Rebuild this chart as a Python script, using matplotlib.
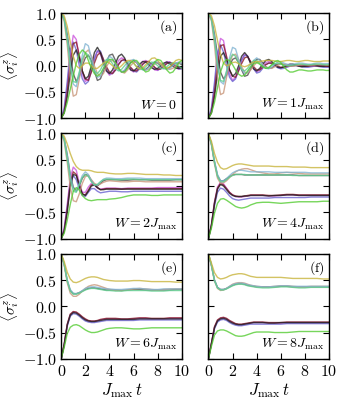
import matplotlib
matplotlib.use("Agg")
import matplotlib.pyplot as plt
from matplotlib.ticker import FixedLocator, FuncFormatter

plt.rcParams['mathtext.fontset'] = 'cm'
plt.rcParams['font.family'] = 'serif'
plt.rcParams['font.serif'] = ['DejaVu Serif']

# time grids
t_fast = [i * 0.25 for i in range(41)]
t_slow = [0, 0.25, 0.5, 0.75, 1.0, 1.25, 1.5, 1.75, 2.0, 2.25, 2.5, 2.75, 3.0, 3.25, 3.5, 3.75, 4.0,
          4.5, 5.0, 5.5, 6.0, 6.5, 7.0, 7.5, 8.0, 8.5, 9.0, 9.5, 10.0]

series_names = ['D', 'M', 'P', 'R', 'K', 'T', 'B', 'L', 'Y', 'G']
series_colors = {'Y': '#c8b43c', 'B': '#82b4d2', 'T': '#c8967a', 'L': '#5fcf8f', 'D': '#4a4a4a',
                 'M': '#cc55dd', 'R': '#8b1a2a', 'K': '#222222', 'P': '#6a62d0', 'G': '#55cc33'}

panel_labels = [r'$\mathrm{(a)}$', r'$\mathrm{(b)}$', r'$\mathrm{(c)}$', r'$\mathrm{(d)}$', r'$\mathrm{(e)}$', r'$\mathrm{(f)}$']
panel_W = [r'$W=0$', r'$W=1J_{\max}$', r'$W=2J_{\max}$', r'$W=4J_{\max}$', r'$W=6J_{\max}$', r'$W=8J_{\max}$']

# ---- panel (a) W=0
a_M = [-1, -0.85, -0.4, 0.2, 0.58, 0.5, 0.15, -0.15, -0.3, -0.25, -0.05, 0.15, 0.28, 0.22, 0.05, -0.1, -0.18, -0.14, -0.02, 0.1, 0.15, 0.12, 0.02, -0.08, -0.12, -0.08, 0.0, 0.08, 0.1, 0.06, -0.02, -0.08, -0.09, -0.04, 0.03, 0.08, 0.07, 0.02, -0.04, -0.07, -0.05]
a_R = [-1, -0.88, -0.5, 0.05, 0.42, 0.45, 0.2, -0.1, -0.25, -0.28, -0.12, 0.05, 0.2, 0.25, 0.12, -0.02, -0.12, -0.15, -0.08, 0.02, 0.1, 0.12, 0.06, -0.03, -0.09, -0.1, -0.04, 0.03, 0.08, 0.08, 0.03, -0.03, -0.07, -0.06, -0.01, 0.04, 0.06, 0.04, 0.0, -0.04, -0.05]
a_K = [-1, -0.9, -0.6, -0.15, 0.2, 0.3, 0.15, -0.1, -0.25, -0.2, 0.0, 0.25, 0.35, 0.25, 0.05, -0.1, -0.15, -0.08, 0.05, 0.18, 0.22, 0.15, 0.02, -0.08, -0.1, -0.05, 0.03, 0.08, 0.07, 0.02, -0.04, -0.07, -0.05, 0.0, 0.05, 0.07, 0.04, -0.01, -0.05, -0.05, -0.02]
a_P = [-1, -0.8, -0.3, 0.3, 0.45, 0.3, 0.0, -0.25, -0.35, -0.3, -0.1, 0.12, 0.28, 0.28, 0.12, -0.05, -0.15, -0.15, -0.08, 0.03, 0.1, 0.1, 0.04, -0.04, -0.1, -0.12, -0.06, 0.02, 0.07, 0.08, 0.03, -0.04, -0.08, -0.06, 0.0, 0.05, 0.07, 0.03, -0.02, -0.06, -0.06]
a_G = [-1, -0.9, -0.7, -0.45, -0.2, 0.05, 0.22, 0.3, 0.25, 0.1, -0.05, -0.15, -0.2, -0.15, -0.05, 0.05, 0.12, 0.12, 0.05, -0.05, -0.12, -0.12, -0.05, 0.05, 0.1, 0.1, 0.03, -0.06, -0.12, -0.1, -0.02, 0.07, 0.12, 0.1, 0.02, -0.08, -0.14, -0.12, -0.04, 0.06, 0.1]
a_T = [1, 0.85, 0.4, -0.2, -0.58, -0.55, -0.25, 0.05, 0.25, 0.3, 0.18, 0.0, -0.15, -0.2, -0.15, -0.02, 0.08, 0.1, 0.05, -0.05, -0.12, -0.14, -0.08, 0.0, 0.06, 0.07, 0.03, -0.03, -0.08, -0.07, -0.02, 0.03, 0.06, 0.05, 0.0, -0.05, -0.07, -0.05, 0.0, 0.04, 0.05]
a_B = [1, 0.9, 0.55, 0.05, -0.35, -0.4, -0.15, 0.2, 0.42, 0.38, 0.15, -0.08, -0.22, -0.2, -0.05, 0.1, 0.18, 0.14, 0.02, -0.08, -0.12, -0.08, 0.02, 0.1, 0.12, 0.07, -0.02, -0.08, -0.09, -0.04, 0.03, 0.08, 0.07, 0.02, -0.04, -0.07, -0.05, 0.0, 0.05, 0.07, 0.04]
a_L = [1, 0.88, 0.5, 0.0, -0.3, -0.32, -0.12, 0.12, 0.25, 0.2, 0.05, -0.1, -0.15, -0.08, 0.04, 0.12, 0.12, 0.04, -0.06, -0.1, -0.07, 0.0, 0.07, 0.09, 0.05, -0.02, -0.07, -0.07, -0.02, 0.04, 0.07, 0.05, 0.0, -0.05, -0.06, -0.02, 0.03, 0.06, 0.04, -0.01, -0.05]
a_D = [1, 0.9, 0.6, 0.2, -0.15, -0.3, -0.2, 0.0, 0.15, 0.2, 0.1, -0.1, -0.28, -0.25, -0.1, 0.08, 0.2, 0.22, 0.1, -0.05, -0.12, -0.1, -0.02, 0.06, 0.1, 0.06, -0.02, -0.07, -0.07, -0.02, 0.04, 0.07, 0.05, 0.0, -0.05, -0.06, -0.03, 0.02, 0.05, 0.05, 0.02]
a_Y = [1, 0.95, 0.75, 0.45, 0.18, 0.0, -0.05, 0.0, 0.05, 0.05, 0.0, -0.05, -0.05, 0.0, 0.05, 0.08, 0.05, 0.0, -0.05, -0.05, 0.0, 0.06, 0.1, 0.1, 0.05, -0.02, -0.06, -0.04, 0.02, 0.08, 0.14, 0.15, 0.1, 0.03, -0.03, -0.05, -0.02, 0.04, 0.1, 0.12, 0.1]

# ---- panel (b) W=1
b_M = [-1, -0.85, -0.42, 0.15, 0.52, 0.48, 0.15, -0.15, -0.28, -0.22, -0.05, 0.12, 0.22, 0.18, 0.05, -0.06, -0.12, -0.08, 0.0, 0.06, 0.08, 0.05, 0.0, -0.03, -0.04, -0.02, 0.0, 0.02, 0.02, 0.01, 0.0, -0.01, -0.01, 0.0, 0.0, 0.01, 0.0, 0.0, -0.01, -0.01, 0.0]
b_R = [-1, -0.88, -0.5, 0.02, 0.38, 0.4, 0.18, -0.08, -0.2, -0.22, -0.1, 0.04, 0.15, 0.17, 0.08, -0.02, -0.08, -0.08, -0.03, 0.02, 0.05, 0.05, 0.02, -0.01, -0.03, -0.03, -0.01, 0.0, 0.01, 0.01, 0.0, -0.01, -0.01, -0.01, 0.0, 0.0, 0.0, -0.01, -0.01, -0.01, -0.01]
b_K = [-1, -0.9, -0.6, -0.15, 0.18, 0.25, 0.12, -0.08, -0.2, -0.15, 0.0, 0.18, 0.25, 0.18, 0.04, -0.06, -0.1, -0.05, 0.03, 0.1, 0.12, 0.08, 0.02, -0.03, -0.04, -0.02, 0.01, 0.03, 0.03, 0.01, -0.01, -0.02, -0.01, 0.0, 0.01, 0.01, 0.0, -0.01, -0.01, 0.0, 0.0]
b_P = [-1, -0.8, -0.32, 0.25, 0.4, 0.26, 0.0, -0.22, -0.3, -0.25, -0.08, 0.1, 0.2, 0.18, 0.06, -0.06, -0.14, -0.12, -0.05, 0.02, 0.05, 0.04, 0.0, -0.04, -0.06, -0.05, -0.03, -0.01, 0.0, 0.0, -0.01, -0.02, -0.03, -0.03, -0.02, -0.01, -0.01, -0.02, -0.03, -0.03, -0.03]
b_G = [-1, -0.9, -0.7, -0.42, -0.12, 0.05, 0.12, 0.1, 0.02, -0.08, -0.16, -0.2, -0.18, -0.1, -0.02, 0.04, 0.06, 0.03, -0.02, -0.05, -0.04, 0.02, 0.08, 0.1, 0.06, -0.02, -0.08, -0.12, -0.12, -0.1, -0.08, -0.08, -0.09, -0.1, -0.1, -0.09, -0.08, -0.08, -0.08, -0.09, -0.09]
b_T = [1, 0.85, 0.4, -0.2, -0.55, -0.52, -0.22, 0.05, 0.2, 0.22, 0.12, -0.02, -0.12, -0.14, -0.08, 0.0, 0.06, 0.07, 0.03, -0.02, -0.05, -0.05, -0.02, 0.01, 0.03, 0.03, 0.01, -0.01, -0.01, 0.0, 0.01, 0.02, 0.02, 0.01, 0.01, 0.01, 0.02, 0.02, 0.02, 0.01, 0.01]
b_B = [1, 0.9, 0.55, 0.05, -0.3, -0.35, -0.12, 0.15, 0.35, 0.32, 0.12, -0.06, -0.15, -0.12, -0.02, 0.1, 0.15, 0.1, 0.02, -0.05, -0.06, -0.02, 0.03, 0.07, 0.08, 0.05, 0.03, 0.02, 0.03, 0.04, 0.05, 0.05, 0.04, 0.03, 0.03, 0.04, 0.05, 0.05, 0.04, 0.04, 0.04]
b_L = [1, 0.88, 0.5, 0.0, -0.28, -0.3, -0.1, 0.1, 0.22, 0.18, 0.05, -0.07, -0.1, -0.05, 0.04, 0.1, 0.1, 0.04, -0.02, -0.05, -0.03, 0.01, 0.04, 0.05, 0.03, 0.01, 0.0, 0.0, 0.01, 0.02, 0.03, 0.03, 0.02, 0.02, 0.02, 0.03, 0.03, 0.03, 0.02, 0.02, 0.02]
b_D = [1, 0.9, 0.6, 0.2, -0.12, -0.25, -0.18, 0.0, 0.12, 0.15, 0.06, -0.08, -0.2, -0.18, -0.06, 0.06, 0.12, 0.12, 0.05, -0.02, -0.05, -0.04, 0.0, 0.03, 0.04, 0.02, 0.0, -0.01, 0.0, 0.01, 0.01, 0.01, 0.0, 0.0, 0.0, 0.01, 0.01, 0.01, 0.0, 0.0, 0.0]
b_Y = [1, 0.95, 0.76, 0.48, 0.22, 0.05, 0.0, 0.02, 0.06, 0.07, 0.04, 0.0, -0.02, 0.0, 0.04, 0.07, 0.08, 0.08, 0.09, 0.1, 0.1, 0.1, 0.09, 0.08, 0.08, 0.09, 0.1, 0.1, 0.09, 0.08, 0.08, 0.09, 0.1, 0.1, 0.09, 0.08, 0.08, 0.08, 0.09, 0.09, 0.09]

# ---- panel (c) W=2
c_Y = [1, 0.95, 0.8, 0.62, 0.47, 0.37, 0.32, 0.3, 0.3, 0.3, 0.29, 0.27, 0.26, 0.26, 0.26, 0.25, 0.24, 0.23, 0.23, 0.24, 0.24, 0.23, 0.22, 0.22, 0.22, 0.21, 0.21, 0.2, 0.2]
c_B = [1, 0.9, 0.58, 0.2, -0.05, -0.1, 0.05, 0.2, 0.27, 0.22, 0.1, 0.02, 0.02, 0.08, 0.13, 0.15, 0.15, 0.14, 0.14, 0.15, 0.15, 0.15, 0.14, 0.14, 0.14, 0.14, 0.14, 0.14, 0.14]
c_L = [1, 0.88, 0.52, 0.12, -0.1, -0.12, 0.02, 0.16, 0.22, 0.18, 0.08, 0.02, 0.03, 0.08, 0.12, 0.13, 0.13, 0.12, 0.12, 0.13, 0.13, 0.12, 0.12, 0.12, 0.12, 0.12, 0.12, 0.12, 0.12]
c_T = [1, 0.85, 0.45, -0.02, -0.28, -0.3, -0.15, 0.05, 0.18, 0.2, 0.12, 0.05, 0.02, 0.04, 0.07, 0.09, 0.1, 0.09, 0.08, 0.08, 0.09, 0.09, 0.08, 0.08, 0.08, 0.08, 0.08, 0.08, 0.08]
c_D = [1, 0.9, 0.6, 0.22, -0.02, -0.1, 0.0, 0.15, 0.22, 0.2, 0.1, 0.02, 0.0, 0.05, 0.1, 0.12, 0.12, 0.12, 0.11, 0.11, 0.12, 0.12, 0.12, 0.11, 0.11, 0.11, 0.11, 0.12, 0.12]
c_M = [-1, -0.8, -0.35, 0.15, 0.36, 0.3, 0.05, -0.12, -0.12, -0.02, 0.05, 0.02, -0.04, -0.06, -0.05, -0.04, -0.04, -0.04, -0.05, -0.04, -0.04, -0.04, -0.04, -0.04, -0.03, -0.03, -0.03, -0.03, -0.03]
c_R = [-1, -0.85, -0.45, 0.05, 0.27, 0.22, 0.0, -0.15, -0.17, -0.08, 0.02, 0.03, -0.03, -0.07, -0.06, -0.05, -0.05, -0.05, -0.06, -0.05, -0.05, -0.05, -0.05, -0.05, -0.05, -0.05, -0.05, -0.05, -0.05]
c_K = [-1, -0.87, -0.5, -0.02, 0.22, 0.2, 0.02, -0.15, -0.18, -0.1, 0.0, 0.02, -0.03, -0.07, -0.07, -0.06, -0.06, -0.06, -0.06, -0.06, -0.06, -0.06, -0.06, -0.06, -0.06, -0.06, -0.06, -0.06, -0.06]
c_P = [-1, -0.82, -0.4, 0.05, 0.2, 0.12, -0.05, -0.18, -0.2, -0.12, -0.05, -0.05, -0.1, -0.13, -0.12, -0.11, -0.1, -0.1, -0.11, -0.11, -0.1, -0.1, -0.1, -0.1, -0.1, -0.1, -0.1, -0.1, -0.1]
c_G = [-1, -0.9, -0.65, -0.35, -0.1, -0.03, -0.08, -0.18, -0.24, -0.27, -0.28, -0.27, -0.26, -0.26, -0.26, -0.26, -0.25, -0.24, -0.22, -0.19, -0.17, -0.17, -0.17, -0.18, -0.18, -0.17, -0.17, -0.17, -0.17]

# ---- panel (d) W=4
d_Y = [1, 0.85, 0.62, 0.45, 0.35, 0.32, 0.33, 0.36, 0.39, 0.41, 0.42, 0.42, 0.41, 0.4, 0.39, 0.38, 0.38, 0.38, 0.38, 0.37, 0.37, 0.37, 0.36, 0.36, 0.36, 0.35, 0.35, 0.35, 0.35]
d_B = [1, 0.8, 0.48, 0.22, 0.1, 0.1, 0.14, 0.2, 0.25, 0.28, 0.3, 0.3, 0.29, 0.28, 0.27, 0.27, 0.27, 0.27, 0.27, 0.26, 0.26, 0.26, 0.26, 0.26, 0.26, 0.25, 0.25, 0.25, 0.25]
d_T = [1, 0.78, 0.42, 0.15, 0.05, 0.06, 0.1, 0.16, 0.22, 0.27, 0.3, 0.32, 0.33, 0.33, 0.31, 0.29, 0.27, 0.25, 0.23, 0.23, 0.25, 0.26, 0.25, 0.24, 0.23, 0.23, 0.23, 0.23, 0.23]
d_L = [1, 0.8, 0.45, 0.18, 0.08, 0.08, 0.12, 0.17, 0.2, 0.22, 0.22, 0.22, 0.22, 0.21, 0.21, 0.21, 0.21, 0.21, 0.21, 0.21, 0.21, 0.21, 0.2, 0.2, 0.2, 0.2, 0.2, 0.2, 0.2]
d_D = [1, 0.8, 0.46, 0.2, 0.1, 0.1, 0.14, 0.18, 0.21, 0.22, 0.22, 0.22, 0.21, 0.21, 0.21, 0.21, 0.21, 0.21, 0.21, 0.21, 0.21, 0.21, 0.21, 0.2, 0.2, 0.2, 0.2, 0.2, 0.2]
d_M = [-1, -0.72, -0.3, -0.02, 0.07, 0.04, -0.04, -0.12, -0.17, -0.2, -0.21, -0.21, -0.2, -0.19, -0.18, -0.18, -0.18, -0.18, -0.19, -0.19, -0.18, -0.17, -0.17, -0.18, -0.18, -0.18, -0.18, -0.18, -0.18]
d_R = [-1, -0.74, -0.32, -0.04, 0.05, 0.02, -0.05, -0.12, -0.17, -0.19, -0.2, -0.2, -0.19, -0.18, -0.17, -0.17, -0.17, -0.17, -0.18, -0.18, -0.17, -0.16, -0.16, -0.17, -0.17, -0.17, -0.17, -0.17, -0.17]
d_K = [-1, -0.75, -0.34, -0.06, 0.03, 0.0, -0.07, -0.14, -0.18, -0.2, -0.2, -0.2, -0.19, -0.19, -0.18, -0.18, -0.18, -0.18, -0.19, -0.18, -0.18, -0.17, -0.17, -0.18, -0.18, -0.18, -0.18, -0.18, -0.18]
d_P = [-1, -0.76, -0.38, -0.12, -0.04, -0.06, -0.12, -0.19, -0.24, -0.26, -0.27, -0.26, -0.25, -0.24, -0.23, -0.23, -0.23, -0.23, -0.23, -0.22, -0.22, -0.22, -0.22, -0.22, -0.22, -0.21, -0.21, -0.21, -0.21]
d_G = [-1, -0.8, -0.52, -0.33, -0.25, -0.24, -0.27, -0.31, -0.35, -0.39, -0.41, -0.42, -0.41, -0.39, -0.36, -0.34, -0.32, -0.31, -0.31, -0.32, -0.33, -0.32, -0.31, -0.3, -0.3, -0.3, -0.3, -0.29, -0.29]

# ---- panel (e) W=6
e_Y = [1, 0.85, 0.65, 0.52, 0.46, 0.45, 0.47, 0.5, 0.53, 0.55, 0.56, 0.56, 0.55, 0.53, 0.51, 0.5, 0.49, 0.48, 0.48, 0.48, 0.49, 0.49, 0.48, 0.47, 0.47, 0.47, 0.47, 0.46, 0.46]
e_B = [1, 0.8, 0.5, 0.32, 0.25, 0.24, 0.26, 0.3, 0.34, 0.36, 0.37, 0.37, 0.36, 0.35, 0.34, 0.33, 0.33, 0.32, 0.32, 0.33, 0.34, 0.34, 0.33, 0.32, 0.32, 0.33, 0.33, 0.33, 0.33]
e_T = [1, 0.78, 0.45, 0.25, 0.19, 0.19, 0.23, 0.29, 0.34, 0.38, 0.4, 0.41, 0.4, 0.38, 0.36, 0.34, 0.32, 0.3, 0.3, 0.31, 0.33, 0.34, 0.33, 0.32, 0.31, 0.32, 0.33, 0.33, 0.33]
e_L = [1, 0.8, 0.48, 0.29, 0.23, 0.23, 0.25, 0.28, 0.31, 0.33, 0.34, 0.34, 0.33, 0.32, 0.31, 0.3, 0.3, 0.29, 0.29, 0.3, 0.3, 0.3, 0.3, 0.29, 0.29, 0.29, 0.3, 0.3, 0.3]
e_D = [1, 0.8, 0.49, 0.3, 0.24, 0.24, 0.26, 0.29, 0.32, 0.34, 0.35, 0.35, 0.34, 0.33, 0.32, 0.31, 0.31, 0.31, 0.3, 0.31, 0.32, 0.32, 0.31, 0.31, 0.31, 0.31, 0.31, 0.32, 0.32]
e_M = [-1, -0.72, -0.35, -0.16, -0.11, -0.12, -0.16, -0.21, -0.25, -0.28, -0.29, -0.29, -0.28, -0.26, -0.25, -0.24, -0.24, -0.24, -0.25, -0.25, -0.24, -0.23, -0.23, -0.24, -0.24, -0.24, -0.23, -0.23, -0.23]
e_R = [-1, -0.72, -0.34, -0.15, -0.1, -0.11, -0.15, -0.2, -0.24, -0.27, -0.28, -0.28, -0.27, -0.25, -0.24, -0.23, -0.23, -0.23, -0.24, -0.24, -0.23, -0.22, -0.22, -0.23, -0.23, -0.23, -0.22, -0.22, -0.22]
e_K = [-1, -0.73, -0.36, -0.17, -0.12, -0.13, -0.17, -0.22, -0.26, -0.28, -0.29, -0.29, -0.28, -0.27, -0.26, -0.25, -0.25, -0.25, -0.25, -0.25, -0.25, -0.24, -0.24, -0.24, -0.24, -0.24, -0.24, -0.24, -0.24]
e_P = [-1, -0.74, -0.38, -0.19, -0.14, -0.15, -0.19, -0.24, -0.28, -0.3, -0.31, -0.31, -0.3, -0.29, -0.28, -0.27, -0.27, -0.27, -0.27, -0.27, -0.27, -0.26, -0.26, -0.26, -0.26, -0.26, -0.26, -0.26, -0.26]
e_G = [-1, -0.78, -0.52, -0.4, -0.36, -0.35, -0.37, -0.41, -0.45, -0.48, -0.5, -0.5, -0.49, -0.47, -0.45, -0.43, -0.42, -0.41, -0.41, -0.42, -0.43, -0.43, -0.42, -0.41, -0.41, -0.41, -0.41, -0.41, -0.41]

# ---- panel (f) W=8
f_Y = [1, 0.82, 0.64, 0.55, 0.52, 0.53, 0.55, 0.58, 0.6, 0.61, 0.62, 0.62, 0.61, 0.59, 0.57, 0.56, 0.55, 0.55, 0.55, 0.55, 0.55, 0.54, 0.53, 0.53, 0.53, 0.53, 0.53, 0.52, 0.52]
f_B = [1, 0.78, 0.5, 0.36, 0.32, 0.32, 0.34, 0.38, 0.41, 0.43, 0.44, 0.44, 0.43, 0.41, 0.4, 0.39, 0.38, 0.37, 0.37, 0.38, 0.39, 0.39, 0.38, 0.38, 0.38, 0.38, 0.38, 0.38, 0.38]
f_T = [1, 0.77, 0.48, 0.34, 0.3, 0.31, 0.34, 0.38, 0.42, 0.44, 0.45, 0.45, 0.44, 0.42, 0.4, 0.39, 0.38, 0.37, 0.37, 0.38, 0.39, 0.39, 0.38, 0.37, 0.37, 0.38, 0.38, 0.38, 0.38]
f_L = [1, 0.78, 0.49, 0.35, 0.31, 0.31, 0.33, 0.36, 0.39, 0.41, 0.42, 0.42, 0.41, 0.39, 0.38, 0.37, 0.36, 0.35, 0.35, 0.36, 0.37, 0.37, 0.36, 0.35, 0.35, 0.36, 0.36, 0.36, 0.36]
f_D = [1, 0.78, 0.5, 0.36, 0.32, 0.32, 0.34, 0.37, 0.4, 0.42, 0.43, 0.43, 0.42, 0.4, 0.39, 0.38, 0.37, 0.37, 0.37, 0.37, 0.38, 0.38, 0.37, 0.37, 0.37, 0.37, 0.37, 0.37, 0.37]
f_M = [-1, -0.7, -0.4, -0.27, -0.23, -0.22, -0.24, -0.28, -0.31, -0.34, -0.35, -0.35, -0.34, -0.33, -0.32, -0.31, -0.31, -0.31, -0.32, -0.32, -0.32, -0.31, -0.31, -0.31, -0.31, -0.31, -0.31, -0.31, -0.31]
f_R = [-1, -0.7, -0.39, -0.26, -0.22, -0.21, -0.23, -0.27, -0.3, -0.33, -0.34, -0.34, -0.33, -0.32, -0.31, -0.3, -0.3, -0.3, -0.31, -0.31, -0.31, -0.3, -0.3, -0.3, -0.3, -0.3, -0.3, -0.3, -0.3]
f_K = [-1, -0.71, -0.41, -0.28, -0.24, -0.23, -0.25, -0.29, -0.32, -0.34, -0.35, -0.35, -0.34, -0.33, -0.32, -0.31, -0.31, -0.31, -0.32, -0.32, -0.31, -0.31, -0.31, -0.31, -0.31, -0.31, -0.31, -0.31, -0.31]
f_P = [-1, -0.72, -0.43, -0.3, -0.26, -0.25, -0.27, -0.31, -0.34, -0.36, -0.37, -0.37, -0.36, -0.35, -0.34, -0.34, -0.34, -0.34, -0.34, -0.34, -0.34, -0.33, -0.33, -0.33, -0.33, -0.33, -0.33, -0.33, -0.33]
f_G = [-1, -0.76, -0.55, -0.47, -0.45, -0.45, -0.47, -0.5, -0.53, -0.56, -0.57, -0.57, -0.56, -0.54, -0.52, -0.5, -0.49, -0.49, -0.49, -0.5, -0.5, -0.5, -0.49, -0.48, -0.48, -0.48, -0.48, -0.48, -0.48]

panels = [
    (t_fast, dict(Y=a_Y, B=a_B, T=a_T, L=a_L, D=a_D, M=a_M, R=a_R, K=a_K, P=a_P, G=a_G)),
    (t_fast, dict(Y=b_Y, B=b_B, T=b_T, L=b_L, D=b_D, M=b_M, R=b_R, K=b_K, P=b_P, G=b_G)),
    (t_slow, dict(Y=c_Y, B=c_B, T=c_T, L=c_L, D=c_D, M=c_M, R=c_R, K=c_K, P=c_P, G=c_G)),
    (t_slow, dict(Y=d_Y, B=d_B, T=d_T, L=d_L, D=d_D, M=d_M, R=d_R, K=d_K, P=d_P, G=d_G)),
    (t_slow, dict(Y=e_Y, B=e_B, T=e_T, L=e_L, D=e_D, M=e_M, R=e_R, K=e_K, P=e_P, G=e_G)),
    (t_slow, dict(Y=f_Y, B=f_B, T=f_T, L=f_L, D=f_D, M=f_M, R=f_R, K=f_K, P=f_P, G=f_G)),
]

xticks = [0, 2, 4, 6, 8, 10]
yticks = [-1.0, -0.5, 0.0, 0.5, 1.0]

fig, axes = plt.subplots(3, 2, figsize=(3.4, 4.0), dpi=100)
fig.subplots_adjust(left=0.18, right=0.968, top=0.967, bottom=0.103, wspace=0.22, hspace=0.145)

fmt_x = FuncFormatter(lambda v, p: r'$%d$' % int(round(v)))
fmt_y = FuncFormatter(lambda v, p: r'$%.1f$' % v)

for idx, ax in enumerate(axes.flat):
    tt, data = panels[idx]
    for name in series_names:
        ax.plot(tt, data[name], color=series_colors[name], lw=1.0, alpha=0.8)
    ax.set_xlim(0, 10)
    ax.set_ylim(-1, 1)
    ax.xaxis.set_major_locator(FixedLocator(xticks))
    ax.yaxis.set_major_locator(FixedLocator(yticks))
    ax.xaxis.set_major_formatter(fmt_x)
    ax.yaxis.set_major_formatter(fmt_y)
    ax.tick_params(direction='in', top=True, right=True, length=4, width=0.8,
                   labelsize=11.5, pad=3)
    for s in ax.spines.values():
        s.set_linewidth(1.0)
    row, col = divmod(idx, 2)
    if col == 1:
        ax.tick_params(labelleft=False)
    else:
        ax.set_ylabel(r'$\langle \sigma_i^z \rangle$', fontsize=11, labelpad=1)
    if row < 2:
        ax.tick_params(labelbottom=False)
    else:
        ax.set_xlabel(r'$J_{\max}\, t$', fontsize=12, labelpad=1)
    ax.text(0.96, 0.95, panel_labels[idx], transform=ax.transAxes, ha='right', va='top', fontsize=10)
    ax.text(0.96, 0.06, panel_W[idx], transform=ax.transAxes, ha='right', va='bottom', fontsize=10)

fig.savefig('out.png', dpi=100)
